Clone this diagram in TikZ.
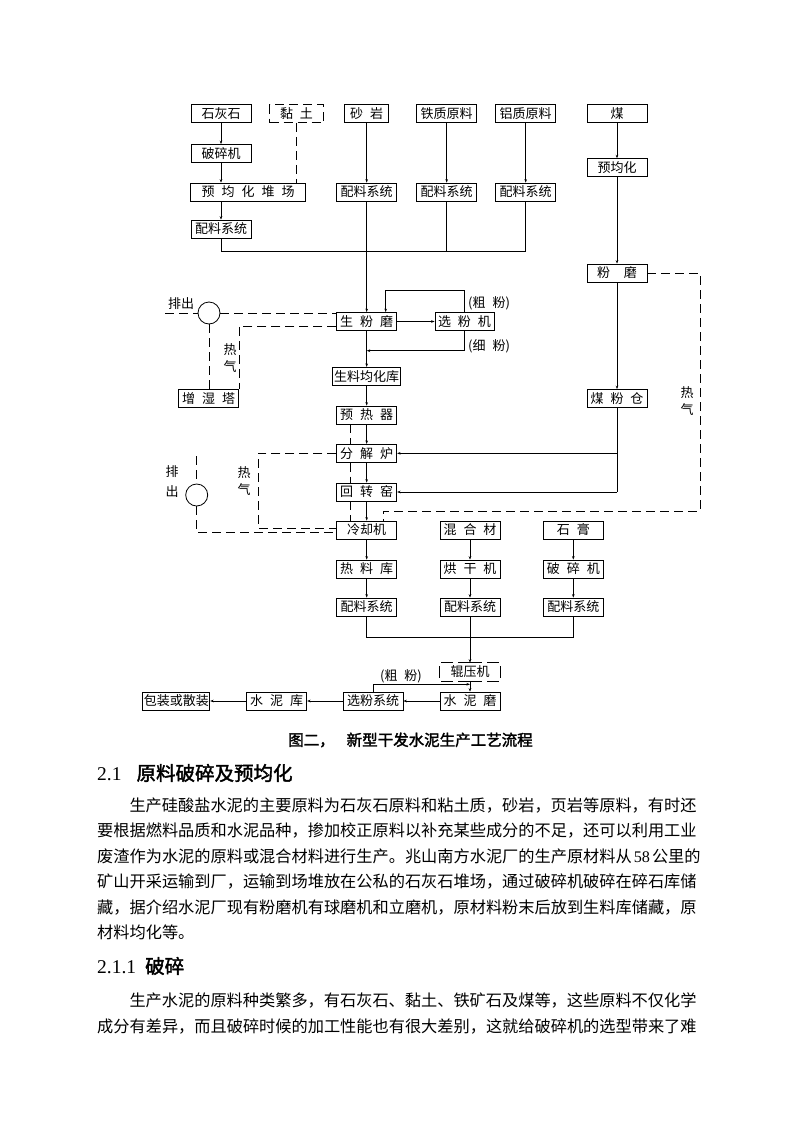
\documentclass[tikz,border=0pt]{standalone}
\usepackage{fontspec}
\setmainfont{Noto Sans CJK SC}
\newfontfamily\heiti[FakeBold=2]{Noto Sans CJK SC}
\newfontfamily\latinfont{Liberation Serif}
\usetikzlibrary{arrows.meta}

\newcommand{\sk}{\hspace{7pt}}
\newcommand{\boxfont}{\fontsize{13}{15}\selectfont}
\newcommand{\bodyfont}{\fontsize{16.2}{20}\selectfont}

\tikzset{
  unit/.style={draw, line width=0.8pt, minimum width=60, minimum height=18, inner sep=0pt, font=\boxfont},
  flow/.style={line width=0.8pt, -{Stealth[length=3.5pt,width=2.6pt]}},
  pipe/.style={line width=0.8pt},
  gas/.style={line width=0.8pt, dash pattern=on 9pt off 5pt},
  vent/.style={draw, circle, line width=0.8pt, minimum size=22, inner sep=0pt},
  note/.style={font=\boxfont, inner sep=0pt},
  vnote/.style={inner sep=0pt, align=center, font=\fontsize{13}{17}\selectfont},
  textline/.style={font=\bodyfont, anchor=west, inner sep=0pt}
}

\begin{document}
\begin{tikzpicture}[x=1pt,y=-1pt]
    \useasboundingbox (0,0) rectangle (800,1132);
    \fill[white] (0,0) rectangle (800,1132);
    % raw materials
    \node[unit] (stone) at (221,113.5) {石灰石};
    \node[unit, gas, minimum width=54] (clay) at (296.5,113.5) {黏\sk 土};
    \node[unit, minimum width=44] (sand) at (366.7,113.5) {砂\sk 岩};
    \node[unit] (iron) at (446.7,113.5) {铁质原料};
    \node[unit] (alum) at (525.7,113.5) {铝质原料};
    \node[unit] (coal) at (617,113.5) {煤};
    \node[unit] (crushA) at (221,153.5) {破碎机};
    \node[unit, minimum width=115] (yard) at (248.2,192) {预\sk 均\sk 化\sk 堆\sk 场};
    \node[unit] (batchS) at (366.7,192) {配料系统};
    \node[unit] (batchI) at (446.7,192) {配料系统};
    \node[unit] (batchA) at (525.7,192) {配料系统};
    \node[unit] (batchL) at (221,229) {配料系统};
    % coal line
    \node[unit] (coalpre) at (617,167.7) {预均化};
    \node[unit] (coalmill) at (617,273) {粉\hspace{14pt}磨};
    \node[unit] (coalbin) at (617,398.5) {煤\sk 粉\sk 仓};
    % raw meal and kiln
    \node[unit] (rawmill) at (366.7,321.5) {生\sk 粉\sk 磨};
    \node[unit, minimum width=59] (sorter) at (464.5,321.5) {选\sk 粉\sk 机};
    \node[unit, minimum width=68] (homo) at (366.7,376.3) {生料均化库};
    \node[unit] (tower) at (208.7,398.3) {增\sk 湿\sk 塔};
    \node[unit] (preheat) at (366.7,415) {预\sk 热\sk 器};
    \node[unit] (calc) at (366.7,453.3) {分\sk 解\sk 炉};
    \node[unit] (kiln) at (366.7,492) {回\sk 转\sk 窑};
    \node[unit] (cooler) at (366.7,530) {冷却机};
    \node[vent] (ventA) at (209,313) {};
    \node[vent] (ventB) at (196.7,495) {};
    % cement
    \node[unit] (blend) at (470,530) {混\sk 合\sk 材};
    \node[unit] (gyps) at (573.3,530) {石\sk 膏};
    \node[unit] (hotbin) at (366.7,569) {热\sk 料\sk 库};
    \node[unit] (dryer) at (470,569) {烘\sk 干\sk 机};
    \node[unit] (crushB) at (573.3,569) {破\sk 碎\sk 机};
    \node[unit] (batchC) at (366.7,607) {配料系统};
    \node[unit] (batchB) at (470,607) {配料系统};
    \node[unit] (batchG) at (573.3,607) {配料系统};
    \node[unit, draw=none] (roller) at (470,672) {辊压机};
    \draw[line width=0.8pt, dash pattern=on 12pt off 5pt] (roller.north) -- (roller.north east) -- (roller.south east) -- (roller.south) (roller.north) -- (roller.north west) -- (roller.south west) -- (roller.south);
    \node[unit] (cmill) at (470,701) {水\sk 泥\sk 磨};
    \node[unit] (csep) at (373,701) {选粉系统};
    \node[unit] (csilo) at (276.7,701) {水\sk 泥\sk 库};
    \node[unit, minimum width=67] (pack) at (176.3,701) {包装或散装};
    % labels
    \node[note] (ventAlbl) at (181,304) {排出};
    \node[vnote] (hotA) at (230,358) {热\\气};
    \node[vnote, font=\fontsize{13}{20}\selectfont] (ventBlbl) at (172,482) {排\\出};
    \node[vnote] (hotB) at (244,481.5) {热\\气};
    \node[vnote] (hotC) at (687,401) {热\\气};
    \node[note, anchor=west] (coarse) at (468,303) {(粗\sk 粉)};
    \node[note, anchor=west] (fine) at (468,346) {(细\sk 粉)};
    \node[note] (coarseB) at (401,676) {(粗\sk 粉)};

    % raw material connectors
    \draw[flow] (stone) -- (crushA);
    \draw[flow] (crushA) -- (crushA.south |- yard.north);
    \draw[gas] (clay) -- (clay.south |- yard.north);
    \draw[flow] (batchL.north |- yard.south) -- (batchL);
    \draw[flow] (sand) -- (batchS);
    \draw[flow] (iron) -- (batchI);
    \draw[flow] (alum) -- (batchA);
    \coordinate (busA) at (0,251.5);
    \draw[pipe] (batchL) -- (batchL.south |- busA) -- (batchA.south |- busA) -- (batchA);
    \draw[pipe] (batchI) -- (batchI.south |- busA);
    \draw[flow] (batchS) -- (rawmill);
    % coal connectors
    \draw[flow] (coal) -- (coalpre);
    \draw[flow] (coalpre) -- (coalmill);
    \draw[flow] (coalmill) -- (coalbin);
    \draw[pipe] (coalbin) -- (coalbin.south |- kiln.east);
    \draw[flow] (coalbin.south |- calc.east) -- (calc);
    \draw[flow] (coalbin.south |- kiln.east) -- (kiln);
    % raw mill loop
    \draw[flow] (rawmill) -- (sorter);
    \draw[flow] (sorter.north) -- ++(0,-22) -| ([xshift=19]rawmill.north);
    \coordinate (fineJ) at (366.7,350.7);
    \draw[flow] (sorter.south) |- (fineJ);
    % main line
    \draw[flow] (rawmill) -- (homo);
    \draw[flow] (homo) -- (preheat);
    \draw[flow] (preheat) -- (calc);
    \draw[flow] (calc) -- (kiln);
    \draw[flow] (kiln) -- (cooler);
    \draw[flow] (cooler) -- (hotbin);
    \draw[flow] (hotbin) -- (batchC);
    \draw[flow] (blend) -- (dryer);
    \draw[flow] (dryer) -- (batchB);
    \draw[flow] (gyps) -- (crushB);
    \draw[flow] (crushB) -- (batchG);
    \coordinate (busB) at (0,637.7);
    \draw[pipe] (batchC) -- (batchC.south |- busB) -- (batchG.south |- busB) -- (batchG);
    \draw[flow] (batchB) -- (roller);
    \draw[flow] (roller) -- (cmill);
    \draw[flow] (csep.north) |- (470,684.3);
    \draw[flow] (cmill) -- (csep);
    \draw[flow] (csep) -- (csilo);
    \draw[flow] (csilo) -- (pack);
    % hot gas and exhaust
    \draw[gas] (165,313) -- (ventA);
    \draw[gas] (ventA) -- (rawmill.west |- ventA);
    \draw[gas] (ventA) -- (ventA.south |- tower.north);
    \draw[gas] ([yshift=-4.5]rawmill.west) -| (tower.north east);
    \foreach \a/\b in {preheat/calc, calc/kiln, kiln/cooler}
        \draw[gas] ([xshift=-16.7]\a.south) -- ([xshift=-16.7]\b.north);
    \draw[gas] (calc.west) -- (258,453.3) |- ([yshift=2]cooler.west);
    \draw[gas] (196.7,456) -- (ventB);
    \draw[gas] (ventB) |- ([yshift=-2.7]cooler.west);
    \draw[gas] (coalmill) -- (700,273) -- (700,511) -| ([xshift=16.3]cooler.north);

    % caption and text
    \node[anchor=west, inner sep=0pt, font=\heiti\fontsize{15.5}{18}\selectfont] (caption) at (288,740) {图二，\hspace{12pt}新型干发水泥生产工艺流程};
    \node[anchor=west, inner sep=0pt, font=\heiti\fontsize{19.5}{22}\selectfont] (secA) at (97,773) {{\latinfont 2.1}\hspace{15pt}原料破碎及预均化};
    \node[textline] (l1) at (129.3,805.5) {生产硅酸盐水泥的主要原料为石灰石原料和粘土质，砂岩，页岩等原料，有时还};
    \node[textline] (l2) at (97,831) {要根据燃料品质和水泥品种，掺加校正原料以补充某些成分的不足，还可以利用工业};
    \node[textline] (l3) at (97,856) {废渣作为水泥的原料或混合材料进行生产。兆山南方水泥厂的生产原材料从\hspace{2pt}{\latinfont 58}\hspace{2pt}公里的};
    \node[textline] (l4) at (97,881.5) {矿山开采运输到厂，运输到场堆放在公私的石灰石堆场，通过破碎机破碎在碎石库储};
    \node[textline] (l5) at (97,907) {藏，据介绍水泥厂现有粉磨机有球磨机和立磨机，原材料粉末后放到生料库储藏，原};
    \node[textline] (l6) at (97,932) {材料均化等。};
    \node[anchor=west, inner sep=0pt, font=\heiti\fontsize{19.5}{22}\selectfont] (secB) at (97,966) {{\latinfont 2.1.1}\hspace{9pt}破碎};
    \node[textline] (l7) at (129.3,1000) {生产水泥的原料种类繁多，有石灰石、黏土、铁矿石及煤等，这些原料不仅化学};
    \node[textline] (l8) at (97,1027) {成分有差异，而且破碎时候的加工性能也有很大差别，这就给破碎机的选型带来了难};
\end{tikzpicture}
\end{document}
